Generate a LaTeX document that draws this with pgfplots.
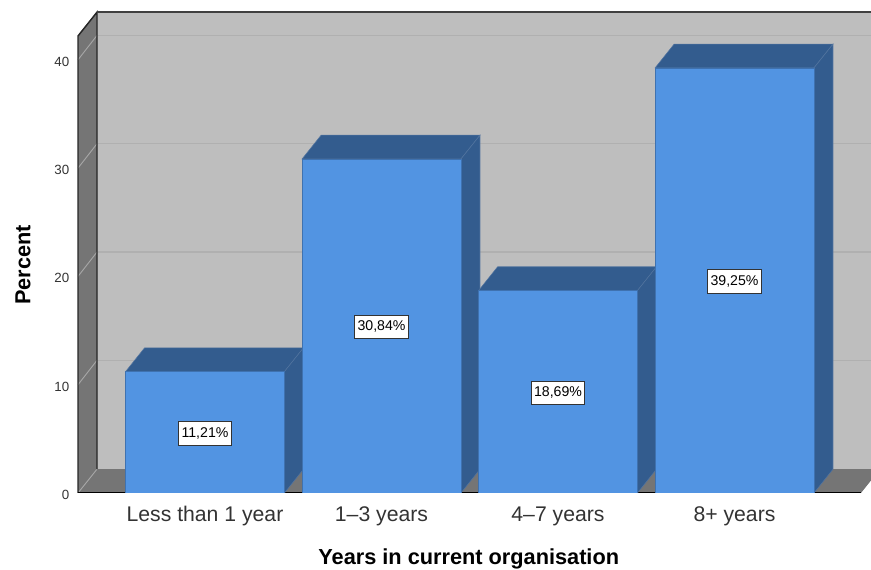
\documentclass[border=0pt]{standalone}
\usepackage{fontspec}
\setmainfont{Liberation Sans}
\usepackage{pgfplots}
\pgfplotsset{compat=1.18}
\definecolor{wall}{HTML}{BEBEBE}
\definecolor{wallgrid}{HTML}{B0B0B0}
\definecolor{sidewall}{HTML}{757575}
\definecolor{sidegrid}{HTML}{A6A6A6}
\definecolor{barfront}{HTML}{5294E2}
\definecolor{barshade}{HTML}{335C8E}
\definecolor{txt}{HTML}{333333}
\begin{document}
\begin{tikzpicture}
\path[use as bounding box] (0pt,0pt) rectangle (653.25pt,427.5pt);
\begin{axis}[
  at={(57pt,57.75pt)}, anchor=south west,
  scale only axis, width=596.25pt, height=362.25pt,
  xmin=-0.7309, xmax=3.7734, ymin=0, ymax=44.6,
  axis line style={draw=none},
  major tick length=0pt,
  xtick={0,1,2,3},
  xticklabels={Less than 1 year,1--3 years,4--7 years,8+ years},
  ytick={0,10,20,30,40},
  x tick label style={font=\fontsize{15.9pt}{18pt}\selectfont, text=txt, text height=11.5pt, text depth=3.2pt, yshift=-6pt},
  y tick label style={font=\fontsize{10pt}{12pt}\selectfont, text=txt, xshift=-1.5pt, yshift=-1.5pt},
  /pgf/number format/assume math mode=true,
  xlabel={Years in current organisation},
  ylabel={Percent},
  xlabel style={at={(axis description cs:0.494,-0.137)}, anchor=center, font=\fontsize{16.3pt}{18pt}\selectfont\bfseries},
  ylabel style={at={(axis description cs:-0.0667,0.472)}, anchor=center, font=\fontsize{16.3pt}{18pt}\selectfont\bfseries},
]
% back wall, floor and left wall of the box
\addplot[fill=wall, draw=none] coordinates {(-0.6119,2.2) (3.9,2.2) (3.9,44.4) (-0.6119,44.4)} -- cycle;
\addplot[fill=sidewall, draw=none] coordinates {(-0.7195,0) (-0.6119,2.2) (3.8244,2.2) (3.7167,0)} -- cycle;
\addplot[fill=sidewall, draw=none] coordinates {(-0.7195,0) (-0.6119,2.2) (-0.6119,44.4) (-0.7195,42.2)} -- cycle;
% gridlines on the back wall
\addplot[wallgrid, line width=0.9pt] coordinates {(-0.6119,12.25) (3.9,12.25)};
\addplot[wallgrid, line width=0.9pt] coordinates {(-0.6119,22.25) (3.9,22.25)};
\addplot[wallgrid, line width=0.9pt] coordinates {(-0.6119,32.25) (3.9,32.25)};
\addplot[wallgrid, line width=0.9pt] coordinates {(-0.6119,42.25) (3.9,42.25)};
% gridlines on the left wall
\addplot[sidegrid, line width=0.7pt] coordinates {(-0.7195,0) (-0.6119,2.2)};
\addplot[sidegrid, line width=0.7pt] coordinates {(-0.7195,10) (-0.6119,12.25)};
\addplot[sidegrid, line width=0.7pt] coordinates {(-0.7195,20) (-0.6119,22.25)};
\addplot[sidegrid, line width=0.7pt] coordinates {(-0.7195,30) (-0.6119,32.25)};
\addplot[sidegrid, line width=0.7pt] coordinates {(-0.7195,40) (-0.6119,42.25)};
% box outline
\addplot[black!85, line width=1.1pt] coordinates {(-0.7195,0) (-0.7195,42.2) (-0.6119,44.4) (-0.6119,2.2)};
\addplot[black!75, line width=1.3pt] coordinates {(-0.6119,44.4) (3.9,44.4)};
\addplot[black, line width=1.1pt] coordinates {(-0.7195,0.05) (3.7167,0.05)};
% shaded tops and right sides of the bars
\addplot[fill=barshade, draw=barshade!85!white, line width=0.4pt] coordinates {(-0.45,11.21) (-0.342,13.41) (0.558,13.41) (0.45,11.21)} -- cycle;
\addplot[fill=barshade, draw=barshade!85!white, line width=0.4pt] coordinates {(0.45,0) (0.558,2.2) (0.558,13.41) (0.45,11.21)} -- cycle;
\addplot[fill=barshade, draw=barshade!85!white, line width=0.4pt] coordinates {(0.55,30.84) (0.658,33.04) (1.558,33.04) (1.45,30.84)} -- cycle;
\addplot[fill=barshade, draw=barshade!85!white, line width=0.4pt] coordinates {(1.45,0) (1.558,2.2) (1.558,33.04) (1.45,30.84)} -- cycle;
\addplot[fill=barshade, draw=barshade!85!white, line width=0.4pt] coordinates {(1.55,18.69) (1.658,20.89) (2.558,20.89) (2.45,18.69)} -- cycle;
\addplot[fill=barshade, draw=barshade!85!white, line width=0.4pt] coordinates {(2.45,0) (2.558,2.2) (2.558,20.89) (2.45,18.69)} -- cycle;
\addplot[fill=barshade, draw=barshade!85!white, line width=0.4pt] coordinates {(2.55,39.25) (2.658,41.45) (3.558,41.45) (3.45,39.25)} -- cycle;
\addplot[fill=barshade, draw=barshade!85!white, line width=0.4pt] coordinates {(3.45,0) (3.558,2.2) (3.558,41.45) (3.45,39.25)} -- cycle;
% front faces of the bars
\addplot[ybar, bar width=119.25pt, fill=barfront, draw=barshade!60!barfront, line width=0.5pt]
  coordinates {(0,11.21) (1,30.84) (2,18.69) (3,39.25)};
% value labels
\begin{scope}[every node/.style={fill=white, draw=black!80, line width=0.7pt, inner xsep=2.2pt, inner ysep=0pt,
    minimum height=17.5pt, font=\fontsize{10.6pt}{12pt}\selectfont, text=black}]
\node at (axis cs:0,5.5) {11,21\%};
\node at (axis cs:1,15.35) {30,84\%};
\node at (axis cs:2,9.25) {18,69\%};
\node at (axis cs:3,19.52) {39,25\%};
\end{scope}
\end{axis}
\end{tikzpicture}
\end{document}
